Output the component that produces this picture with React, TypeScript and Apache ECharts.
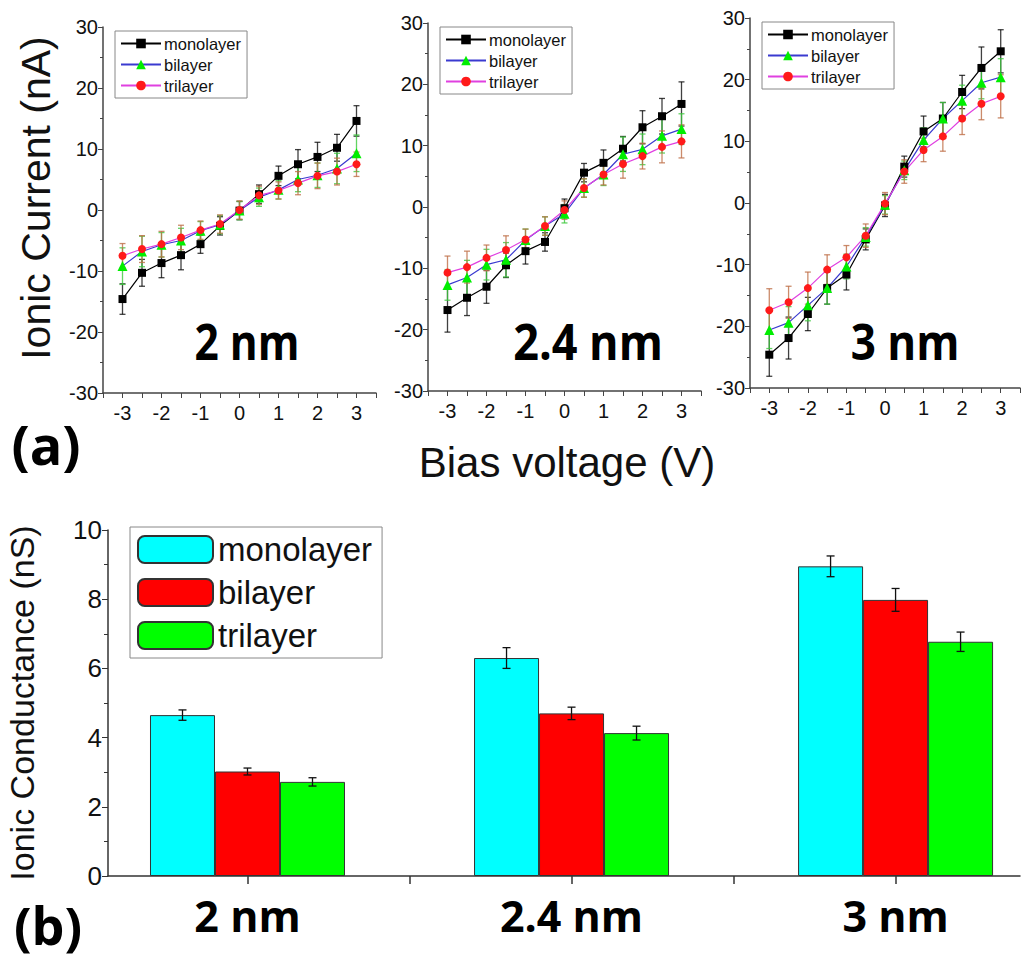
import React, { useEffect, useRef } from 'react';
import * as echarts from 'echarts';

// ---------- data ----------
const voltages = [-3, -2.5, -2, -1.5, -1, -0.5, 0, 0.5, 1, 1.5, 2, 2.5, 3];
const layerNames = ['monolayer', 'bilayer', 'trilayer'];
const poreLabels = ['2 nm', '2.4 nm', '3 nm'];

// 2 nm pore, ionic current (nA)
const current2Mono = [-14.6, -10.3, -8.7, -7.4, -5.6, -2.6, -0.1, 2.6, 5.6, 7.5, 8.7, 10.2, 14.6];
const current2Bi = [-9.2, -6.8, -5.7, -5.0, -3.4, -2.4, -0.1, 2.1, 3.3, 5.0, 5.7, 6.8, 9.3];
const current2Tri = [-7.5, -6.4, -5.6, -4.5, -3.3, -2.3, 0.0, 2.4, 3.2, 4.4, 5.6, 6.3, 7.5];
const err2Mono = [2.5, 2.2, 2.4, 2.4, 1.5, 1.5, 1.5, 1.5, 1.6, 2.4, 2.4, 2.2, 2.5];
const err2Bi = [3.0, 2.5, 2.0, 2.0, 1.5, 1.5, 1.5, 1.5, 1.5, 2.0, 2.0, 2.5, 3.0];
const err2Tri = [2.0, 2.2, 2.1, 2.0, 1.5, 1.5, 1.5, 1.5, 1.4, 1.9, 2.1, 2.2, 2.0];

// 2.4 nm pore
const current24Mono = [-16.8, -14.8, -13.0, -9.5, -7.2, -5.7, -0.2, 5.6, 7.2, 9.5, 13.0, 14.8, 16.8];
const current24Bi = [-12.7, -11.5, -9.4, -8.6, -5.4, -3.1, -1.1, 3.1, 5.3, 8.6, 9.4, 11.6, 12.7];
const current24Tri = [-10.7, -9.8, -8.3, -7.0, -5.3, -3.1, -0.5, 3.1, 5.3, 7.0, 8.3, 9.8, 10.7];
const err24Mono = [3.6, 2.9, 2.7, 2.0, 2.1, 1.5, 1.5, 1.5, 2.1, 2.0, 2.7, 2.9, 3.6];
const err24Bi = [2.5, 2.8, 2.5, 2.8, 1.8, 1.5, 1.5, 1.5, 1.8, 2.8, 2.5, 2.8, 2.5];
const err24Tri = [2.7, 2.6, 2.1, 2.3, 1.7, 1.5, 1.5, 1.5, 1.7, 2.3, 2.1, 2.6, 2.7];

// 3 nm pore
const current3Mono = [-24.6, -21.9, -18.0, -13.8, -11.6, -5.9, -0.4, 5.9, 11.6, 13.7, 18.0, 21.9, 24.6];
const current3Bi = [-20.6, -19.4, -16.6, -13.8, -10.3, -5.5, -0.3, 5.3, 10.2, 13.7, 16.6, 19.5, 20.4];
const current3Tri = [-17.4, -16.1, -13.8, -10.8, -8.8, -5.3, -0.1, 5.1, 8.6, 10.8, 13.7, 16.1, 17.3];
const err3Mono = [3.5, 3.4, 2.7, 2.6, 2.5, 1.7, 1.8, 1.7, 2.5, 2.6, 2.7, 3.4, 3.5];
const err3Bi = [3.0, 2.6, 2.5, 2.6, 2.0, 1.5, 1.5, 1.5, 2.0, 2.6, 2.5, 2.6, 3.0];
const err3Tri = [3.5, 2.6, 2.6, 2.4, 1.9, 1.9, 1.8, 1.9, 1.9, 2.4, 2.6, 2.6, 3.5];

// ionic conductance (nS) per pore size
const poreIndex = [0, 1, 2];
const conductanceMono = [4.65, 6.3, 8.95];
const conductanceBi = [3.02, 4.7, 7.98];
const conductanceTri = [2.72, 4.13, 6.77];
const condErrMono = [0.15, 0.3, 0.3];
const condErrBi = [0.1, 0.18, 0.33];
const condErrTri = [0.12, 0.2, 0.28];

// ---------- styles ----------
const lineColors = ['#000000', '#3a3ad0', '#e040e0'];
const markerColors = ['#000000', '#00ee00', '#ff1a1a'];
const markerSymbols = ['rect', 'triangle', 'circle'];
const errColors = ['rgba(0,0,0,0.75)', 'rgba(60,200,60,0.8)', 'rgba(190,110,70,0.8)'];
const barColors = ['#00ffff', '#ff0000', '#00ff00'];
const SANS = '"Liberation Sans", Arial, sans-serif';
const BOLD = '"Open Sans", sans-serif';

const panels = [
  { mono: current2Mono, bi: current2Bi, tri: current2Tri, eMono: err2Mono, eBi: err2Bi, eTri: err2Tri, grid: { left: 103, top: 27, width: 273, height: 366 } },
  { mono: current24Mono, bi: current24Bi, tri: current24Tri, eMono: err24Mono, eBi: err24Bi, eTri: err24Tri, grid: { left: 428, top: 23, width: 273, height: 368 } },
  { mono: current3Mono, bi: current3Bi, tri: current3Tri, eMono: err3Mono, eBi: err3Bi, eTri: err3Tri, grid: { left: 750, top: 18, width: 273, height: 370 } },
];

function errRender(color: string, offsetPx: number, cap: number) {
  return (params: any, api: any) => {
    const x = api.value(0);
    const lo = api.coord([x, api.value(1)]);
    const hi = api.coord([x, api.value(2)]);
    const cx = lo[0] + offsetPx;
    const st = { stroke: color, lineWidth: 1.3 };
    return {
      type: 'group',
      children: [
        { type: 'line', shape: { x1: cx, y1: lo[1], x2: cx, y2: hi[1] }, style: st },
        { type: 'line', shape: { x1: cx - cap, y1: lo[1], x2: cx + cap, y2: lo[1] }, style: st },
        { type: 'line', shape: { x1: cx - cap, y1: hi[1], x2: cx + cap, y2: hi[1] }, style: st },
      ],
    };
  };
}

export default function App() {
  const ref = useRef<HTMLDivElement>(null);
  useEffect(() => {
    if (!ref.current) return;
    const chart = echarts.init(ref.current, undefined, { renderer: 'svg' });

    const grids: any[] = [];
    const xAxes: any[] = [];
    const yAxes: any[] = [];
    const series: any[] = [];
    const legends: any[] = [];

    panels.forEach((p, pi) => {
      grids.push({ ...p.grid, containLabel: false });
      xAxes.push({
        type: 'value', gridIndex: pi, min: -3.5, max: 3.5, interval: 0.5,
        axisLine: { onZero: false, lineStyle: { color: '#444', width: 1.5 } },
        axisTick: { show: true, length: 5, lineStyle: { color: '#444' } },
        splitLine: { show: false },
        axisLabel: {
          fontFamily: SANS, fontSize: 20, color: '#111', margin: 10,
          formatter: (v: number) => (Number.isInteger(v) && Math.abs(v) <= 3 ? String(v) : ''),
        },
      });
      yAxes.push({
        type: 'value', gridIndex: pi, min: -30, max: 30, interval: 10,
        axisLine: { show: true, onZero: false, lineStyle: { color: '#444', width: 1.5 } },
        axisTick: { show: true, length: 5, lineStyle: { color: '#444' } },
        minorTick: { show: true, splitNumber: 2, length: 3, lineStyle: { color: '#444' } },
        splitLine: { show: false },
        axisLabel: { fontFamily: SANS, fontSize: 20, color: '#111', margin: 5 },
      });
      const ys = [p.mono, p.bi, p.tri];
      const es = [p.eMono, p.eBi, p.eTri];
      layerNames.forEach((name, li) => {
        series.push({
          type: 'custom', name: 'err-' + name + '-' + pi, xAxisIndex: pi, yAxisIndex: pi, z: 1,
          renderItem: errRender(errColors[li], 0, 3),
          encode: { x: 0, y: [1, 2] },
          data: voltages.map((v, k) => [v, ys[li][k] - es[li][k], ys[li][k] + es[li][k]]),
          silent: true,
        });
      });
      layerNames.forEach((name, li) => {
        series.push({
          type: 'line', name, xAxisIndex: pi, yAxisIndex: pi, z: 3,
          data: voltages.map((v, k) => [v, ys[li][k]]),
          symbol: markerSymbols[li],
          symbolSize: li === 1 ? 10 : 8,
          lineStyle: { color: lineColors[li], width: 1.2 },
          itemStyle: { color: markerColors[li] },
        });
      });
      legends.push({
        data: layerNames, orient: 'vertical',
        left: p.grid.left + 12, top: p.grid.top + 4,
        itemWidth: 40, itemHeight: 12, itemGap: 4,
        padding: [4, 6, 4, 5],
        borderColor: '#888', borderWidth: 1, backgroundColor: '#fff',
        textStyle: { fontFamily: SANS, fontSize: 16.5, color: '#111', padding: [0, 0, 0, -2] },
        selectedMode: false,
      });
    });

    // bar chart
    const bi = 3;
    grids.push({ left: 108, top: 530, width: 912, height: 346 });
    xAxes.push({
      type: 'value', gridIndex: bi, min: -0.4305, max: 2.384,
      axisLine: { onZero: false, lineStyle: { color: '#333', width: 1.5 } },
      axisTick: { show: true, length: 8, customValues: [0, 0.5, 1, 1.5, 2], lineStyle: { color: '#333', width: 1.5 } },
      splitLine: { show: false },
      axisLabel: {
        customValues: poreIndex,
        formatter: (v: number) => poreLabels[Math.round(v)] ?? '',
        fontFamily: BOLD, fontWeight: 'bold', fontSize: 43, color: '#000', margin: 18,
      },
    });
    yAxes.push({
      type: 'value', gridIndex: bi, min: 0, max: 10, interval: 2,
      axisLine: { show: true, onZero: false, lineStyle: { color: '#333', width: 1.5 } },
      axisTick: { show: true, length: 6, lineStyle: { color: '#333' } },
      minorTick: { show: true, splitNumber: 2, length: 4, lineStyle: { color: '#333' } },
      splitLine: { show: false },
      axisLabel: { fontFamily: SANS, fontSize: 26, color: '#111', margin: 6 },
    });
    const barVals = [conductanceMono, conductanceBi, conductanceTri];
    const barErrs = [condErrMono, condErrBi, condErrTri];
    const barW = 65;
    layerNames.forEach((name, li) => {
      series.push({
        type: 'bar', name: 'bar:' + name, xAxisIndex: bi, yAxisIndex: bi,
        barWidth: barW, barGap: '0%', z: 2,
        data: poreIndex.map((x, k) => [x, barVals[li][k]]),
        itemStyle: { color: barColors[li], borderColor: '#333', borderWidth: 1 },
      });
    });
    layerNames.forEach((name, li) => {
      series.push({
        type: 'custom', name: 'barerr-' + name, xAxisIndex: bi, yAxisIndex: bi, z: 4,
        renderItem: errRender('#111', (li - 1) * barW, 4),
        encode: { x: 0, y: [1, 2] },
        data: poreIndex.map((x, k) => [x, barVals[li][k] - barErrs[li][k], barVals[li][k] + barErrs[li][k]]),
        silent: true,
      });
    });
    legends.push({
      data: layerNames.map((n) => 'bar:' + n), orient: 'vertical',
      left: 130, top: 527,
      itemWidth: 75, itemHeight: 27, itemGap: 10,
      padding: [6, 10, 6, 7],
      borderColor: '#888', borderWidth: 1, backgroundColor: '#fff',
      formatter: (n: string) => n.replace('bar:', ''),
      textStyle: { fontFamily: SANS, fontSize: 33, color: '#111' },
      selectedMode: false,
    });

    const option: any = {
      animation: false,
      backgroundColor: '#fff',
      grid: grids,
      xAxis: xAxes,
      yAxis: yAxes,
      legend: legends,
      series,
      graphic: [
        { type: 'text', x: 36, y: 198, rotation: Math.PI / 2, style: { text: 'Ionic Current (nA)', font: `41px ${SANS}`, fill: '#111', align: 'center', verticalAlign: 'middle' } },
        { type: 'text', x: 567, y: 462, style: { text: 'Bias voltage (V)', font: `42px ${SANS}`, fill: '#111', align: 'center', verticalAlign: 'middle' } },
        { type: 'text', x: 22, y: 703, rotation: Math.PI / 2, style: { text: 'Ionic Conductance (nS)', font: `34px ${SANS}`, fill: '#111', align: 'center', verticalAlign: 'middle' } },
        { type: 'text', x: 247, y: 341, scaleX: 0.85, style: { text: '2 nm', font: `bold 50px ${BOLD}`, fill: '#000', align: 'center', verticalAlign: 'middle' } },
        { type: 'text', x: 588, y: 341, scaleX: 0.9, style: { text: '2.4 nm', font: `bold 50px ${BOLD}`, fill: '#000', align: 'center', verticalAlign: 'middle' } },
        { type: 'text', x: 905, y: 341, scaleX: 0.88, style: { text: '3 nm', font: `bold 50px ${BOLD}`, fill: '#000', align: 'center', verticalAlign: 'middle' } },
        { type: 'text', x: 46, y: 444, style: { text: '(a)', font: `bold 54px ${BOLD}`, lineHeight: 56, fill: '#000', align: 'center', verticalAlign: 'middle' } },
        { type: 'text', x: 48, y: 924, style: { text: '(b)', font: `bold 52px ${BOLD}`, lineHeight: 54, fill: '#000', align: 'center', verticalAlign: 'middle' } },
      ],
    };
    chart.setOption(option);
    return () => chart.dispose();
  }, []);
  return (
    <div
      ref={ref}
      style={{ position: 'fixed', left: 0, top: 0, width: 1023, height: 960, background: '#fff' }}
    />
  );
}
